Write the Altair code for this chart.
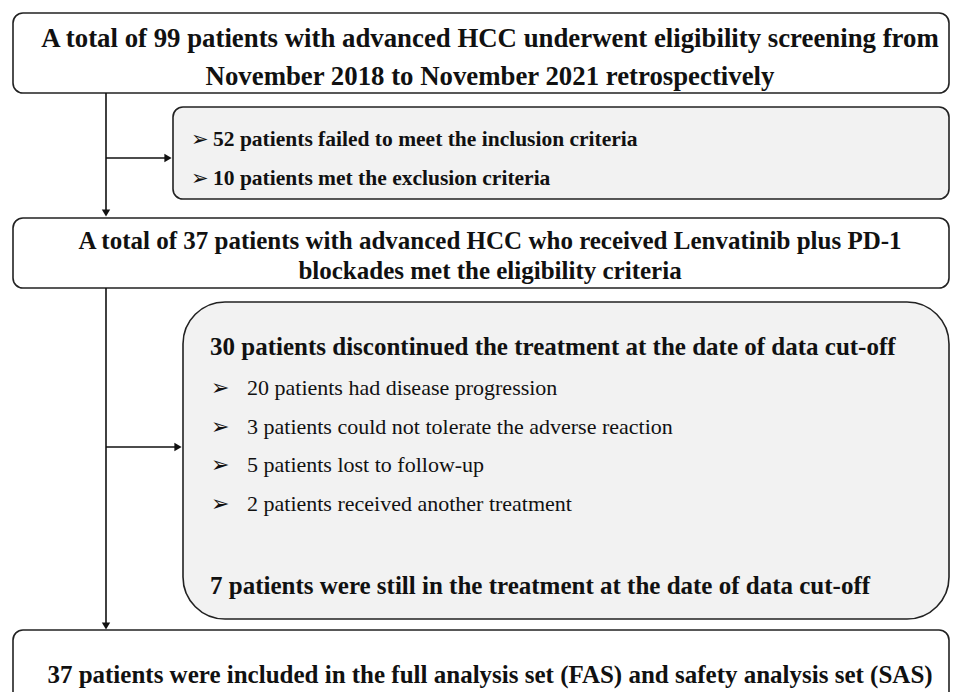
import altair as alt
import pandas as pd

# Boxes (page pixel coordinates)
box_x1 = [13, 173, 13, 13]
box_x2 = [949, 949, 949, 949]
box_y1 = [13, 107, 218, 630]
box_y2 = [93, 199, 288, 720]
box_fill = ["#ffffff", "#f2f2f2", "#ffffff", "#ffffff"]

big_x1 = [183]
big_x2 = [949]
big_y1 = [302]
big_y2 = [619]

# Top box texts
t_text = ["A total of 99 patients with advanced HCC underwent eligibility screening from",
          "November 2018 to November 2021 retrospectively"]
t_x = [490, 490]
t_y = [47, 85]

# Middle and bottom box texts
c_text = [
    "A total of 37 patients with advanced HCC who received Lenvatinib plus PD-1",
    "blockades met the eligibility criteria",
    "37 patients were included in the full analysis set (FAS) and safety analysis set (SAS)",
]
c_x = [490, 490, 490]
c_y = [249, 279, 683]

# Small side box
s_text = ["52 patients failed to meet the inclusion criteria",
          "10 patients met the exclusion criteria"]
s_x = [213, 213]
s_mx = [191, 191]
s_y = [146, 185]

# Big box headings
h_text = ["30 patients discontinued the treatment at the date of data cut-off",
          "7 patients were still in the treatment at the date of data cut-off"]
h_x = [210, 210]
h_y = [355, 594]

# Bullets
b_text = ["20 patients had disease progression",
          "3 patients could not tolerate the adverse reaction",
          "5 patients lost to follow-up",
          "2 patients received another treatment"]
b_y = [395, 434, 472, 511]
b_x = [247, 247, 247, 247]
m_x = [211, 211, 211, 211]

# Connector lines
l_x1 = [106, 106, 106, 106]
l_x2 = [106, 165, 106, 175]
l_y1 = [93, 158, 288, 447]
l_y2 = [211, 158, 624, 447]

# Arrow heads
a_x = [106, 168, 106, 178]
a_y = [213, 158, 626, 447]
a_shape = ["triangle-down", "triangle-right", "triangle-down", "triangle-right"]

X = alt.Scale(domain=[8, 950], range=[0, 942], padding=0, nice=False, zero=False)
Y = alt.Scale(domain=[8, 692], range=[0, 684], padding=0, nice=False, zero=False)
serif = "Times New Roman, Liberation Serif, serif"

boxes = pd.DataFrame({"x1": box_x1, "x2": box_x2, "y1": box_y1, "y2": box_y2, "fill": box_fill})
big = pd.DataFrame({"x1": big_x1, "x2": big_x2, "y1": big_y1, "y2": big_y2})
ttext = pd.DataFrame({"t": t_text, "x": t_x, "y": t_y})
ctext = pd.DataFrame({"t": c_text, "x": c_x, "y": c_y})
stext = pd.DataFrame({"t": s_text, "x": s_x, "mx": s_mx, "y": s_y, "m": ["➢"] * 2})
htext = pd.DataFrame({"t": h_text, "x": h_x, "y": h_y})
btext = pd.DataFrame({"t": b_text, "x": b_x, "y": b_y, "mx": m_x, "m": ["➢"] * 4})
lines = pd.DataFrame({"x1": l_x1, "x2": l_x2, "y1": l_y1, "y2": l_y2})
arrows = pd.DataFrame({"x": a_x, "y": a_y, "shape": a_shape})

def xe(f): return alt.X(f, type="quantitative", scale=X, axis=None)
def ye(f): return alt.Y(f, type="quantitative", scale=Y, axis=None)

box_layer = alt.Chart(boxes).mark_rect(cornerRadius=10, stroke="#222222", strokeWidth=1.6).encode(
    x=xe("x1"), x2="x2", y=ye("y1"), y2="y2",
    fill=alt.Fill("fill:N", scale=None))

big_layer = alt.Chart(big).mark_rect(cornerRadius=42, stroke="#222222", strokeWidth=1.6, fill="#f2f2f2").encode(
    x=xe("x1"), x2="x2", y=ye("y1"), y2="y2")

line_layer = alt.Chart(lines).mark_rule(color="#111111", strokeWidth=1.6).encode(
    x=xe("x1"), x2="x2", y=ye("y1"), y2="y2")

arrow_layer = alt.Chart(arrows).mark_point(filled=True, color="#111111", size=70, opacity=1).encode(
    x=xe("x"), y=ye("y"), shape=alt.Shape("shape:N", scale=None))

def txt(df, size, align="left", weight="bold", font=serif, field="t", xf="x"):
    kw = dict(font=font, fontSize=size, align=align, baseline="alphabetic", color="#111111")
    if weight:
        kw["fontWeight"] = weight
    return alt.Chart(df).mark_text(**kw).encode(x=xe(xf), y=ye("y"), text=alt.Text(field, type="nominal"))

layers = [
    box_layer, big_layer, line_layer, arrow_layer,
    txt(ttext, 26.8, align="center"),
    txt(ctext, 25, align="center"),
    txt(stext, 21.5),
    txt(stext, 21, weight=None, font="DejaVu Sans", field="m", xf="mx"),
    txt(htext, 25),
    txt(btext, 22, weight=None),
    txt(btext, 22, weight=None, font="DejaVu Sans", field="m", xf="mx"),
]

chart = alt.layer(*layers).properties(
    width=942, height=684, autosize=alt.AutoSizeParams(type="none"), padding=0
).configure_view(stroke=None)

chart.save("out.html", embed_options={"renderer": "svg", "actions": False})
